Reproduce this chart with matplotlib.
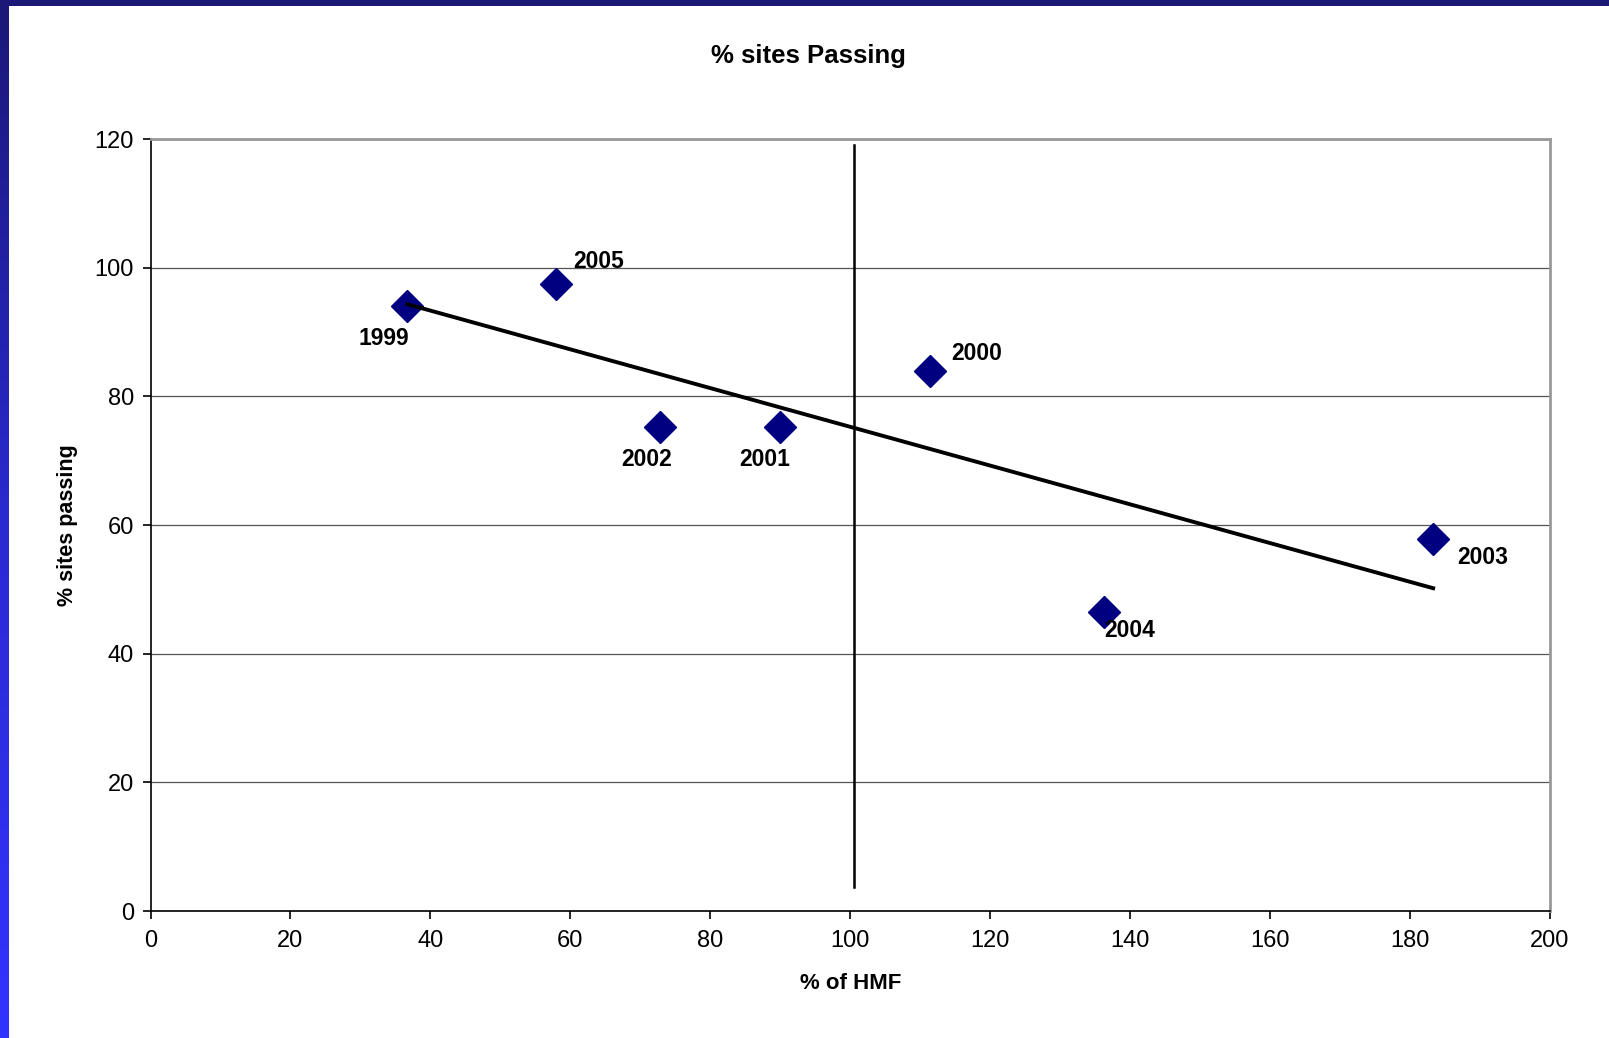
import matplotlib
matplotlib.use("Agg")
import matplotlib.pyplot as plt
import numpy as np
from matplotlib.colors import LinearSegmentedColormap

# Data
years = ["1999", "2005", "2002", "2001", "2000", "2004", "2003"]
pct_hmf = [36.7, 58.0, 72.8, 90.0, 111.4, 136.2, 183.3]
pct_passing = [94.0, 97.5, 75.3, 75.3, 83.9, 46.4, 57.9]

# label offsets (points, left edge / vertical centre) per year
label_offsets = {
    "1999": (-35, -23), "2005": (12.5, 16), "2002": (-28, -23.5), "2001": (-29.5, -23.5),
    "2000": (15.5, 12.5), "2004": (0.7, -13.3), "2003": (17, -14),
}

plt.rcParams["font.family"] = ["Liberation Sans", "DejaVu Sans"]

W, H = 1609, 1038
fig = plt.figure(figsize=(W / 100, H / 100), dpi=100)
fig.patch.set_facecolor("white")

# slide-style border: navy band on top, gradient band on the left
top = fig.add_axes([0, 1 - 6 / H, 1, 6 / H])
top.set_facecolor("#1b1878")
top.set_xticks([]); top.set_yticks([])
for s in top.spines.values():
    s.set_visible(False)

left = fig.add_axes([0, 0, 8.5 / W, 1 - 6 / H])
cmap = LinearSegmentedColormap.from_list("side", ["#1b1878", "#2a2ad0", "#3333ff"])
left.imshow(np.linspace(0, 1, 256).reshape(-1, 1), aspect="auto", cmap=cmap)
left.set_axis_off()

ax = fig.add_axes([150.5 / W, 1 - 911 / H, (1550 - 150.5) / W, (911 - 139) / H])
ax.set_xlim(0, 200)
ax.set_ylim(0, 120)
ax.set_xticks(range(0, 201, 20))
ax.set_yticks(range(0, 121, 20))
ax.tick_params(direction="out", length=6, width=1.2, labelsize=17, colors="black")
ax.tick_params(axis="x", pad=8)
ax.tick_params(axis="y", pad=6)
ax.yaxis.grid(True, color="#555555", linewidth=0.9)
ax.set_axisbelow(True)
for side in ("top", "right"):
    ax.spines[side].set_color("#999999")
    ax.spines[side].set_linewidth(2)
for side in ("left", "bottom"):
    ax.spines[side].set_color("black")
    ax.spines[side].set_linewidth(1.2)

# trend line (least squares of the points)
slope, intercept = np.polyfit(pct_hmf, pct_passing, 1)
xs = np.array([min(pct_hmf), max(pct_hmf)])
ax.plot(xs, slope * xs + intercept, color="black", linewidth=2.8, zorder=3)

# 100% HMF reference line
ax.plot([100.5, 100.5], [3.8, 119], color="black", linewidth=1.8, zorder=3)

ax.plot(pct_hmf, pct_passing, linestyle="none", marker="D", markersize=16,
        color="#000080", zorder=2)

for yr, x, y in zip(years, pct_hmf, pct_passing):
    ax.annotate(yr, (x, y), xytext=label_offsets[yr], textcoords="offset points",
                fontsize=16.5, fontweight="bold", ha="left", va="center")

ax.set_xlabel("% of HMF", fontsize=16, fontweight="bold", labelpad=15)
ax.set_ylabel("% sites passing", fontsize=15.5, fontweight="bold", labelpad=12)
fig.text(808 / W, 1 - 56 / H, "% sites Passing", fontsize=18.5, fontweight="bold",
         ha="center", va="center")

fig.savefig("out.png", dpi=100)
